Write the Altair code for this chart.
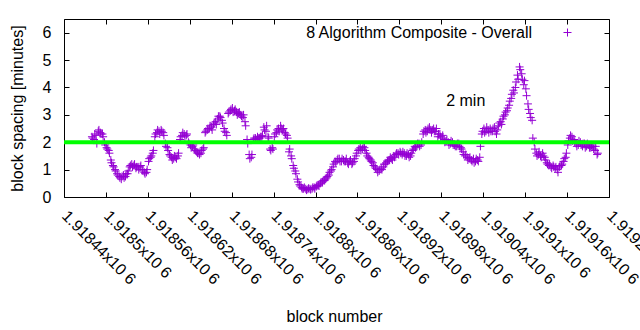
import altair as alt
import pandas as pd

FONT = "Liberation Sans"
PURPLE = "#9400d3"
CROSS = "M-1,0L1,0M0,-1L0,1"

blocks = [
    1918480, 1918483, 1918486, 1918489, 1918492, 1918495, 1918498, 1918501, 1918504, 1918507,
    1918510, 1918513, 1918516, 1918519, 1918522, 1918525, 1918528, 1918531, 1918534, 1918537,
    1918540, 1918543, 1918546, 1918549, 1918552, 1918555, 1918558, 1918561, 1918564, 1918567,
    1918570, 1918573, 1918576, 1918579, 1918582, 1918585, 1918588, 1918591, 1918594, 1918597,
    1918600, 1918603, 1918606, 1918609, 1918612, 1918615, 1918618, 1918621, 1918624, 1918627,
    1918630, 1918633, 1918636, 1918639, 1918642, 1918645, 1918648, 1918651, 1918654, 1918657,
    1918660, 1918663, 1918666, 1918669, 1918672, 1918675, 1918678, 1918681, 1918684, 1918687,
    1918690, 1918693, 1918696, 1918699, 1918702, 1918705, 1918708, 1918711, 1918714, 1918717,
    1918720, 1918723, 1918726, 1918729, 1918732, 1918735, 1918738, 1918741, 1918744, 1918747,
    1918750, 1918753, 1918756, 1918759, 1918762, 1918765, 1918768, 1918771, 1918774, 1918777,
    1918780, 1918783, 1918786, 1918789, 1918792, 1918795, 1918798, 1918801, 1918804, 1918807,
    1918810, 1918813, 1918816, 1918819, 1918822, 1918825, 1918828, 1918831, 1918834, 1918837,
    1918840, 1918843, 1918846, 1918849, 1918852, 1918855, 1918858, 1918861, 1918864, 1918867,
    1918870, 1918873, 1918876, 1918879, 1918882, 1918885, 1918888, 1918891, 1918894, 1918897,
    1918900, 1918903, 1918906, 1918909, 1918912, 1918915, 1918918, 1918921, 1918924, 1918927,
    1918930, 1918933, 1918936, 1918939, 1918942, 1918945, 1918948, 1918951, 1918954, 1918957,
    1918960, 1918963, 1918966, 1918969, 1918972, 1918975, 1918978, 1918981, 1918984, 1918987,
    1918990, 1918993, 1918996, 1918999, 1919002, 1919005, 1919008, 1919011, 1919014, 1919017,
    1919020, 1919023, 1919026, 1919029, 1919032, 1919035, 1919038, 1919041, 1919044, 1919047,
    1919050, 1919053, 1919056, 1919059, 1919062, 1919065, 1919068, 1919071, 1919074, 1919077,
    1919080, 1919083, 1919086, 1919089, 1919092, 1919095, 1919098, 1919101, 1919104, 1919107,
    1919110, 1919113, 1919116, 1919119, 1919122, 1919125, 1919128, 1919131, 1919134, 1919137,
    1919140, 1919143, 1919146, 1919149, 1919152, 1919155, 1919158, 1919161, 1919164, 1919167,
    1919170, 1919173, 1919176, 1919179, 1919182, 1919185, 1919188, 1919191, 1919194, 1919197,
    1919200, 1919203,
]

spacing = [
    2.2, 2.1, 2.25, 2.4, 2.35, 2.3, 2.0, 1.8, 1.7, 1.35,
    1.15, 1.0, 0.85, 0.75, 0.65, 0.8, 0.75, 0.85, 1.1, 1.2,
    1.15, 1.05, 1.1, 1.1, 1.0, 0.9, 0.9, 1.3, 1.45, 1.6,
    2.2, 2.35, 2.4, 2.45, 2.35, 1.95, 1.8, 1.55, 1.45, 1.4,
    1.45, 1.5, 2.1, 2.25, 2.3, 2.25, 2.0, 1.9, 1.85, 1.75,
    1.65, 1.6, 1.6, 1.75, 2.35, 2.45, 2.5, 2.55, 2.65, 2.75,
    2.85, 2.95, 2.8, 2.5, 2.35, 3.05, 3.15, 3.25, 3.15, 3.1,
    3.05, 3.0, 2.9, 2.75, 2.1, 1.55, 1.45, 2.1, 2.15, 2.2,
    2.15, 2.2, 2.55, 2.4, 2.2, 1.75, 1.8, 2.2, 2.35, 2.5,
    2.6, 2.45, 2.35, 2.25, 1.65, 1.5, 1.15, 0.95, 0.65, 0.45,
    0.35, 0.3, 0.3, 0.28, 0.3, 0.3, 0.35, 0.38, 0.45, 0.5,
    0.55, 0.6, 0.7, 0.8, 0.95, 1.1, 1.3, 1.35, 1.4, 1.3,
    1.35, 1.3, 1.25, 1.3, 1.2, 1.3, 1.5, 1.7, 1.8, 1.75,
    1.8, 1.6, 1.45, 1.35, 1.25, 1.1, 1.0, 0.95, 1.05, 1.1,
    1.2, 1.3, 1.35, 1.4, 1.5, 1.55, 1.6, 1.65, 1.55, 1.6,
    1.5, 1.55, 1.5, 1.7, 1.85, 1.85, 1.95, 1.9, 2.3, 2.45,
    2.4, 2.55, 2.35, 2.5, 2.4, 2.2, 2.3, 2.15, 2.1, 2.05,
    2.0, 1.95, 2.0, 1.9, 1.85, 1.95, 1.8, 1.65, 1.5, 1.45,
    1.4, 1.35, 1.4, 1.3, 1.35, 1.45, 2.3, 2.5, 2.4, 2.45,
    2.5, 2.4, 2.55, 2.3, 2.6, 2.75, 2.85, 3.0, 3.15, 3.35,
    3.6, 3.9, 4.0, 4.45, 4.75, 4.5, 4.1, 3.95, 3.4, 3.05,
    2.8, 2.0, 1.6, 1.55, 1.5, 1.6, 1.45, 1.25, 1.15, 1.1,
    1.15, 1.05, 1.0, 1.1, 1.15, 1.3, 1.45, 1.9, 2.15, 2.2,
    2.1, 1.95, 1.9, 2.0, 1.85, 1.95, 1.85, 1.9, 1.8, 1.85,
    1.7, 1.55,
]

blocks_b = [
    1918481, 1918484, 1918487, 1918490, 1918493, 1918496, 1918499, 1918502, 1918505, 1918508,
    1918511, 1918514, 1918517, 1918520, 1918523, 1918526, 1918529, 1918532, 1918535, 1918538,
    1918541, 1918544, 1918547, 1918550, 1918553, 1918556, 1918559, 1918562, 1918565, 1918568,
    1918571, 1918574, 1918577, 1918580, 1918583, 1918586, 1918589, 1918592, 1918595, 1918598,
    1918601, 1918604, 1918607, 1918610, 1918613, 1918616, 1918619, 1918622, 1918625, 1918628,
    1918631, 1918634, 1918637, 1918640, 1918643, 1918646, 1918649, 1918652, 1918655, 1918658,
    1918661, 1918664, 1918667, 1918670, 1918673, 1918676, 1918679, 1918682, 1918685, 1918688,
    1918691, 1918694, 1918697, 1918700, 1918703, 1918706, 1918709, 1918712, 1918715, 1918718,
    1918721, 1918724, 1918727, 1918730, 1918733, 1918736, 1918739, 1918742, 1918745, 1918748,
    1918751, 1918754, 1918757, 1918760, 1918763, 1918766, 1918769, 1918772, 1918775, 1918778,
    1918781, 1918784, 1918787, 1918790, 1918793, 1918796, 1918799, 1918802, 1918805, 1918808,
    1918811, 1918814, 1918817, 1918820, 1918823, 1918826, 1918829, 1918832, 1918835, 1918838,
    1918841, 1918844, 1918847, 1918850, 1918853, 1918856, 1918859, 1918862, 1918865, 1918868,
    1918871, 1918874, 1918877, 1918880, 1918883, 1918886, 1918889, 1918892, 1918895, 1918898,
    1918901, 1918904, 1918907, 1918910, 1918913, 1918916, 1918919, 1918922, 1918925, 1918928,
    1918931, 1918934, 1918937, 1918940, 1918943, 1918946, 1918949, 1918952, 1918955, 1918958,
    1918961, 1918964, 1918967, 1918970, 1918973, 1918976, 1918979, 1918982, 1918985, 1918988,
    1918991, 1918994, 1918997, 1919000, 1919003, 1919006, 1919009, 1919012, 1919015, 1919018,
    1919021, 1919024, 1919027, 1919030, 1919033, 1919036, 1919039, 1919042, 1919045, 1919048,
    1919051, 1919054, 1919057, 1919060, 1919063, 1919066, 1919069, 1919072, 1919075, 1919078,
    1919081, 1919084, 1919087, 1919090, 1919093, 1919096, 1919099, 1919102, 1919105, 1919108,
    1919111, 1919114, 1919117, 1919120, 1919123, 1919126, 1919129, 1919132, 1919135, 1919138,
    1919141, 1919144, 1919147, 1919150, 1919153, 1919156, 1919159, 1919162, 1919165, 1919168,
    1919171, 1919174, 1919177, 1919180, 1919183, 1919186, 1919189, 1919192, 1919195, 1919198,
    1919201, 1919204,
]

spacing_b = [
    2.15, 2.3, 1.95, 2.45, 2.3, 2.2, 1.9, 1.75, 1.6, 1.25,
    1.1, 0.95, 0.8, 0.7, 0.75, 0.7, 0.85, 0.95, 1.15, 1.1,
    1.2, 1.1, 1.0, 1.15, 0.95, 0.85, 1.0, 1.4, 1.5, 1.7,
    2.3, 2.45, 2.3, 2.4, 2.25, 1.85, 1.7, 1.5, 1.35, 1.5,
    1.4, 1.6, 2.2, 2.35, 2.2, 2.3, 1.95, 1.8, 1.9, 1.7,
    1.6, 1.55, 1.7, 1.8, 2.4, 2.5, 2.6, 2.45, 2.7, 2.65,
    2.95, 2.9, 2.7, 2.4, 2.25, 3.1, 3.2, 3.1, 3.2, 3.0,
    3.1, 2.95, 3.0, 2.6, 1.95, 1.4, 1.55, 2.15, 2.1, 2.15,
    2.2, 2.25, 2.45, 2.6, 2.15, 1.7, 1.75, 2.3, 2.45, 2.4,
    2.5, 2.5, 2.3, 2.15, 1.75, 1.4, 1.05, 0.85, 0.55, 0.4,
    0.3, 0.35, 0.25, 0.32, 0.27, 0.35, 0.3, 0.42, 0.4, 0.55,
    0.6, 0.65, 0.75, 0.9, 1.0, 1.2, 1.25, 1.4, 1.3, 1.4,
    1.3, 1.4, 1.2, 1.35, 1.25, 1.4, 1.6, 1.75, 1.7, 1.85,
    1.7, 1.5, 1.4, 1.3, 1.15, 1.05, 0.9, 1.0, 1.0, 1.2,
    1.25, 1.35, 1.45, 1.35, 1.45, 1.6, 1.55, 1.6, 1.65, 1.5,
    1.6, 1.45, 1.6, 1.75, 1.8, 1.95, 1.85, 2.0, 2.4, 2.35,
    2.5, 2.45, 2.45, 2.4, 2.5, 2.3, 2.2, 2.25, 2.0, 2.1,
    1.9, 2.05, 1.9, 1.85, 1.95, 1.85, 1.75, 1.55, 1.55, 1.35,
    1.45, 1.3, 1.25, 1.4, 1.3, 1.85, 2.4, 2.35, 2.55, 2.35,
    2.4, 2.5, 2.4, 2.45, 2.7, 2.65, 2.95, 3.1, 3.25, 3.5,
    3.75, 3.8, 4.2, 4.3, 4.65, 4.3, 4.25, 3.7, 3.2, 2.9,
    2.15, 1.75, 1.5, 1.65, 1.45, 1.5, 1.35, 1.2, 1.2, 1.05,
    1.1, 1.1, 0.9, 1.15, 1.2, 1.4, 1.6, 2.05, 2.25, 2.05,
    2.0, 1.85, 2.05, 1.9, 1.95, 1.8, 1.95, 1.8, 1.9, 1.75,
    1.85, 1.6,
]

series_name = "8 Algorithm Composite - Overall"

x_ticks = [1918440, 1918500, 1918560, 1918620, 1918680, 1918740, 1918800,
           1918860, 1918920, 1918980, 1919040, 1919100, 1919160, 1919220]
y_ticks = [0, 1, 2, 3, 4, 5, 6]
x_range = [1918440, 1919220]
y_range = [0, 6.5]

target_x = [1918440, 1919220]
target_y = [2, 2]

note_text = ["2 min"]
note_x = [1918987]
note_y = [3.5]

df = pd.DataFrame({
    "block": blocks + blocks_b,
    "spacing": spacing + spacing_b,
    "series": series_name,
})
df_line = pd.DataFrame({"block": target_x, "spacing": target_y})
df_note = pd.DataFrame({"block": note_x, "spacing": note_y, "label": note_text})

xs = alt.Scale(domain=x_range, nice=False, zero=False)
ys = alt.Scale(domain=y_range, nice=False, zero=False)

label_expr = "format(datum.value / 1000000, '.5~f') + 'x10 6'"
inward = {"expr": "-5"}

points = alt.Chart(df).mark_point(
    shape=CROSS, size=64, filled=False, strokeWidth=1, opacity=1
).encode(
    x=alt.X("block:Q", scale=xs, axis=alt.Axis(
        orient="bottom", values=x_ticks, labelExpr=label_expr, labelAngle=45,
        labelAlign="left", labelBaseline="middle", labelPadding=16,
        labelFlush=False, labelOverlap=False, ticks=False, domain=False, grid=False,
        title="block number", titleX=270, titleY=124, titleBaseline="alphabetic")),
    y=alt.Y("spacing:Q", scale=ys, axis=alt.Axis(
        orient="left", values=y_ticks, ticks=False, domain=False, grid=False,
        labelPadding=13, labelFlush=False, labelOverlap=False,
        title="block spacing [minutes]", titleX=-46.5, titleBaseline="middle")),
    color=alt.Color("series:N", scale=alt.Scale(range=[PURPLE]), legend=alt.Legend(
        title=None, orient="none", legendX=495.5, legendY=5.5, padding=0,
        labelAlign="right", labelOffset={"expr": "-43.5"}, labelLimit=400,
        symbolType=CROSS, symbolSize=64, symbolStrokeWidth=1,
        symbolStrokeColor=PURPLE, labelFont=FONT, labelFontSize=16, labelColor="black")),
)

line = alt.Chart(df_line).mark_line(color="#00ff00", strokeWidth=4).encode(
    x=alt.X("block:Q", scale=xs, axis=alt.Axis(
        orient="bottom", values=x_ticks, labels=False, tickSize=5, offset=inward,
        domain=False, grid=False, title=None)),
    y=alt.Y("spacing:Q", scale=ys, axis=alt.Axis(
        orient="left", values=y_ticks, labels=False, tickSize=5, offset=inward,
        domain=False, grid=False, title=None)),
)

note = alt.Chart(df_note).mark_text(
    align="left", baseline="middle", font=FONT, fontSize=16, color="black"
).encode(
    x=alt.X("block:Q", scale=xs, axis=alt.Axis(
        orient="top", values=x_ticks, labels=False, tickSize=5, offset=inward,
        domain=False, grid=False, title=None)),
    y=alt.Y("spacing:Q", scale=ys, axis=alt.Axis(
        orient="right", values=y_ticks, labels=False, tickSize=5, offset=inward,
        domain=False, grid=False, title=None)),
    text="label:N",
)

chart = alt.layer(points, line, note).resolve_axis(
    x="independent", y="independent"
).properties(
    width=545, height=178,
    autosize=alt.AutoSizeParams(type="none"),
    padding={"left": 64, "top": 19, "right": 31, "bottom": 133},
).configure_view(
    stroke="black", strokeWidth=1
).configure_axis(
    labelFont=FONT, titleFont=FONT, labelFontSize=16, titleFontSize=16,
    labelColor="black", titleColor="black", tickColor="black",
    titleFontWeight="normal"
)

chart.save("out.html", embed_options={"renderer": "svg", "actions": False})
